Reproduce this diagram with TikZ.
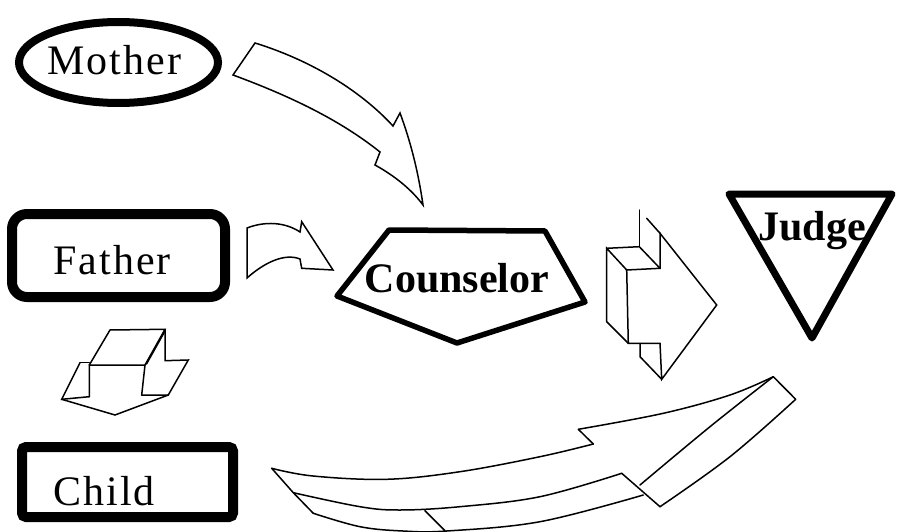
\documentclass[tikz,border=0pt]{standalone}
\usepackage{fontspec}
\setmainfont{Liberation Serif}
\newfontfamily\spacedserif[LetterSpace=5]{Liberation Serif}
\begin{document}
\begin{tikzpicture}[x=1pt,y=-1pt,
  lbl/.style={font=\spacedserif\fontsize{42}{48}\selectfont, anchor=base, inner sep=0pt},
  blbl/.style={font=\bfseries\fontsize{42}{48}\selectfont, anchor=base, inner sep=0pt},
  arr/.style={line width=1.5pt, line join=miter, line cap=round},
  heavy/.style={line width=#1, line join=miter}]
\useasboundingbox (0,0) rectangle (897,532);
\fill[white] (0,0) rectangle (897,532);

% ---- Mother
\draw[heavy=8pt] (118.5,62.5) ellipse [x radius=99.5, y radius=40.5];
\node[lbl] (mother) at (114.5,75) {Mother};

% ---- Father
\draw[heavy=10pt, rounded corners=15pt] (12,214) rectangle (225,297);
\node[lbl] (father) at (112,274) {Father};

% ---- Child
\draw[heavy=10pt, rounded corners=4pt] (22,447) rectangle (233,517);
\node[lbl] (child) at (104,505) {Child};

% ---- Counselor
\draw[heavy=5.5pt, line join=round] (389,230) -- (545,231) -- (585,302) -- (457,343) -- (337,296) -- cycle;
\node[blbl] (counselor) at (457,292) {Counselor};

% ---- Judge
\draw[heavy=7pt, line join=round] (729,194) -- (892,194) -- (812,338) -- cycle;
\node[blbl] (judge) at (812,240) {Judge};

% ---- Mother -> Counselor curved block arrow
\draw[arr] (255,43) .. controls (310,60) and (360,90) .. (393,126)
  -- (400,113) .. controls (410,140) and (418,170) .. (423,205)
  .. controls (412,190) and (395,176) .. (375,165)
  -- (380,152) .. controls (340,120) and (290,96) .. (233,75) -- cycle;

% ---- Father -> Counselor small curved arrow
\draw[arr] (247,228) .. controls (265,221) and (285,222) .. (300,232)
  -- (301.7,221.7) -- (333,270) -- (301.7,268.3) -- (300,259)
  .. controls (285,253) and (265,262) .. (247,278) -- cycle;

% ---- Father -> Child 3D arrow
\draw[arr] (61.7,399.3) -- (115,415) -- (168.3,395);
\draw[arr] (80,362.7) -- (89.3,362.7);
\draw[arr] (80,362.7) -- (61.7,399.3) -- (89.3,396.7);
\draw[arr] (89.3,396.7) -- (89.3,365) -- (145,365) -- (141.7,395);
\draw[arr] (89.3,365) -- (110,330) -- (165,329.3) -- (145,365);
\draw[arr] (165,329.3) -- (165,360.7) -- (188.3,360) -- (168.3,395) -- (141.7,395);
\draw[arr] (165,331) -- (146.5,364);

% ---- Counselor -> Judge 3D arrow
\draw[arr] (626.7,270) -- (660,268.3) -- (660,233.3) -- (716.7,305) -- (661.7,379.3)
  -- (660,343.3) -- (628.3,343.3) -- cycle;
\draw[arr] (626.7,270) -- (606.7,248.3) -- (606.7,321.7) -- (628.3,343.3);
\draw[arr] (606.7,248.3) -- (639.3,246.7) -- (660,268.3);
\draw[arr] (639.3,246.7) -- (639.3,210);
\draw[arr] (646.7,218.3) -- (660,233.3);
\draw[arr] (640,343.3) -- (640,356.7) -- (661.7,379.3);

% ---- Child -> Judge big curved 3D arrow
\draw[arr] (271.7,468.3) -- (293.3,492.7) -- (313.3,513.3);
\draw[arr] plot[smooth, tension=0.6] coordinates {(271.7,468.3) (313,476) (386.7,479.3) (460,471.7) (540,456.7) (593.3,444)};
\draw[arr] (593.3,444) -- (578.3,429.3);
\draw[arr] plot[smooth, tension=0.6] coordinates {(578.3,429.3) (663.3,413.3) (730,395) (773.3,376.7)};
\draw[arr] plot[smooth, tension=0.6] coordinates {(293.3,492.7) (360,506.7) (400,510) (460,506.7) (540,496.7) (621.7,473.3)};
\draw[arr] (621.7,473.3) -- (660,506.7);
\draw[arr] plot[smooth, tension=0.6] coordinates {(313.3,513.3) (360,526.7) (403,531) (446.7,531) (540,521.7) (643.3,495)};
\draw[arr] (425,510.7) -- (445,530.7);
\draw[arr] (773.3,376.7) -- (795.7,399.3);
\draw[arr] plot[smooth, tension=0.6] coordinates {(795.7,399.3) (730,456.7) (660,506.7)};
\draw[arr] plot[smooth, tension=0.6] coordinates {(773.3,376.7) (710,426.7) (640,485)};
\end{tikzpicture}
\end{document}
